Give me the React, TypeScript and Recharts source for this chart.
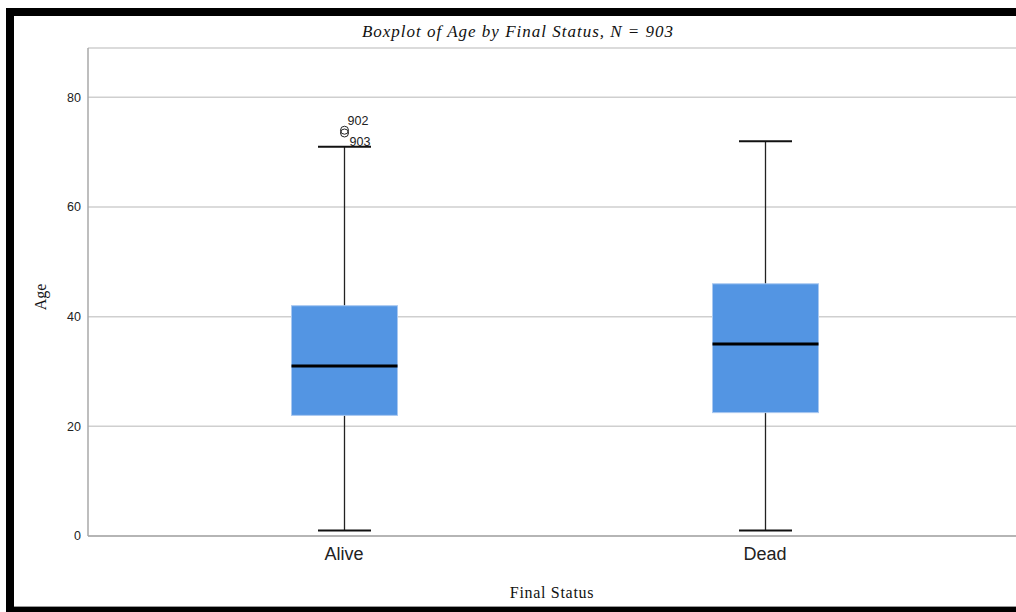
import React from "react";
import { ComposedChart, Bar, XAxis, YAxis, CartesianGrid } from "recharts";

const categories = ["Alive", "Dead"];
const mins = [1, 1];
const q1s = [22, 22.5];
const medians = [31, 35];
const q3s = [42, 46];
const maxs = [71, 72];
const outlierValues = [[74, 73.5], []];
const outlierLabels = [["902", "903"], []];
const yTicks = [0, 20, 40, 60, 80];

const data = categories.map((c, i) => ({
  status: c,
  min: mins[i],
  q1: q1s[i],
  median: medians[i],
  q3: q3s[i],
  max: maxs[i],
  outliers: outlierValues[i],
  labels: outlierLabels[i],
  range: [mins[i], maxs[i]],
}));

const BoxShape = (props: any) => {
  const { x, y, width, height, payload } = props;
  const top = Math.min(y, y + height);
  const bot = Math.max(y, y + height);
  const lo = payload.min;
  const hi = payload.max;
  const sy = (v: number) => bot - ((bot - top) * (v - lo)) / (hi - lo);
  const cx = x + width / 2;
  const capW = width / 2;
  const yq1 = sy(payload.q1);
  const yq3 = sy(payload.q3);
  const ymed = sy(payload.median);
  return (
    <g>
      <line x1={cx} x2={cx} y1={sy(hi)} y2={sy(lo)} stroke="#222" strokeWidth={1.3} />
      <line x1={cx - capW / 2} x2={cx + capW / 2} y1={sy(hi)} y2={sy(hi)} stroke="#111" strokeWidth={2} />
      <line x1={cx - capW / 2} x2={cx + capW / 2} y1={sy(lo)} y2={sy(lo)} stroke="#111" strokeWidth={2} />
      <rect x={x} y={yq3} width={width} height={yq1 - yq3} fill="#5395e3" stroke="#a9c8f0" strokeWidth={1} />
      <line x1={x} x2={x + width} y1={ymed} y2={ymed} stroke="#000" strokeWidth={3} />
      {payload.outliers.map((v: number, i: number) => (
        <g key={i}>
          <circle cx={cx} cy={sy(v)} r={4} fill="none" stroke="#222" strokeWidth={1} />
          <text
            x={cx + (i === 0 ? 3 : 5)}
            y={sy(v) + (i === 0 ? -5 : 13)}
            fontSize={12.5}
            fontFamily="Liberation Sans, Arial, sans-serif"
            fill="#222"
          >
            {payload.labels[i]}
          </text>
        </g>
      ))}
    </g>
  );
};

const AgeLabel = (props: any) => {
  const { viewBox } = props;
  const cy = viewBox.y + viewBox.height / 2 + 5;
  return (
    <text
      x={26}
      y={cy}
      transform={`rotate(-90 26 ${cy})`}
      textAnchor="middle"
      dominantBaseline="central"
      fontSize={16}
      fontFamily="Liberation Serif, Times New Roman, serif"
      fill="#111"
    >
      Age
    </text>
  );
};

export default function App() {
  return (
    <div
      style={{
        position: "relative",
        width: 1016,
        height: 612,
        overflow: "hidden",
        background: "#fff",
      }}
    >
      <style>{"html,body{margin:0;padding:0;overflow:hidden;}"}</style>
      <div
        style={{
          position: "absolute",
          left: 6,
          top: 8,
          width: 1002,
          height: 591,
          borderTop: "8px solid #000",
          borderLeft: "8px solid #000",
          borderBottom: "8px solid #000",
          boxShadow: "inset 0 -1px 0 #9a9a9a",
          background: "#fff",
        }}
      >
        <div
          style={{
            position: "absolute",
            left: 0,
            width: 1008,
            top: 6,
            textAlign: "center",
            fontFamily: "Liberation Serif, Times New Roman, serif",
            fontStyle: "italic",
            fontSize: 17,
            letterSpacing: 1,
            color: "#111",
          }}
        >
          Boxplot of Age by Final Status, N = 903
        </div>
        <ComposedChart
          width={1002}
          height={591}
          data={data}
          margin={{ top: 32, right: 0, left: 0, bottom: 0 }}
          barSize={106}
        >
          <CartesianGrid horizontal vertical={false} stroke="#cfcfcf" strokeWidth={1.5} />
          <XAxis
            dataKey="status"
            type="category"
            padding={{ left: 45.5, right: 40.5 }}
            height={71}
            tickLine={false}
            axisLine={{ stroke: "#a8a8a8", strokeWidth: 1.5 }}
            tick={{ fontSize: 18, fill: "#222", fontFamily: "Liberation Sans, Arial, sans-serif" }}
            tickMargin={5}
            label={{
              value: "Final Status",
              position: "insideBottom",
              offset: 9,
              fontSize: 16,
              letterSpacing: 0.7,
              fill: "#111",
              fontFamily: "Liberation Serif, Times New Roman, serif",
            }}
          />
          <YAxis
            type="number"
            domain={[0, 89]}
            ticks={yTicks}
            width={74}
            tickLine={false}
            axisLine={{ stroke: "#a8a8a8", strokeWidth: 1.5 }}
            tick={{ fontSize: 12.5, fill: "#222", fontFamily: "Liberation Sans, Arial, sans-serif" }}
            tickMargin={1}
            label={<AgeLabel />}
          />
          <Bar dataKey="range" shape={<BoxShape />} isAnimationActive={false} />
        </ComposedChart>
      </div>
    </div>
  );
}
